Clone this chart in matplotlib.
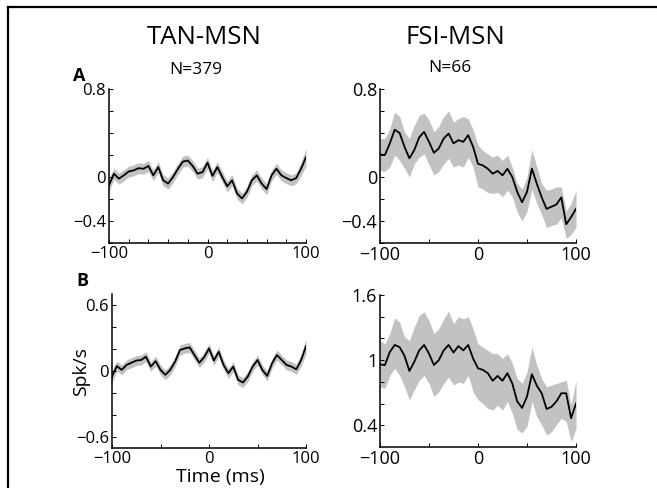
import numpy as np
import matplotlib.pyplot as plt
from matplotlib.lines import Line2D

plt.rcParams['font.family'] = ['Open Sans', 'DejaVu Sans']

# time axis (ms)
t = np.arange(-100, 101, 5)

# TAN-MSN, panel A (mean and sem)
tan_a = [-0.075, 0.03, -0.015, 0.015, 0.05, 0.06, 0.08, 0.075, 0.10, 0.015,
         0.09, -0.03, -0.06, 0.0, 0.075, 0.14, 0.15, 0.10, 0.03, 0.045,
         0.13, 0.01, 0.09, 0.0, -0.085, -0.03, -0.15, -0.195, -0.135, -0.03,
         0.015, -0.06, -0.11, 0.015, 0.075, 0.015, -0.01, -0.03, -0.01, 0.075, 0.18]
tan_a_sem = [0.06, 0.05, 0.05, 0.05, 0.05, 0.05, 0.05, 0.05, 0.05, 0.05,
             0.05, 0.05, 0.05, 0.05, 0.05, 0.05, 0.05, 0.05, 0.05, 0.05,
             0.05, 0.05, 0.05, 0.05, 0.05, 0.05, 0.05, 0.05, 0.05, 0.05,
             0.05, 0.05, 0.05, 0.05, 0.05, 0.05, 0.05, 0.05, 0.05, 0.06, 0.08]

# TAN-MSN, panel B
tan_b = [-0.05, 0.045, 0.01, 0.055, 0.075, 0.095, 0.10, 0.13, 0.04, 0.09,
         0.01, -0.035, 0.01, 0.085, 0.19, 0.205, 0.215, 0.145, 0.075, 0.125,
         0.205, 0.095, 0.175, 0.055, -0.02, 0.04, -0.08, -0.105, -0.05, 0.04,
         0.10, 0.01, -0.045, 0.07, 0.145, 0.10, 0.055, 0.04, 0.015, 0.10, 0.225]
tan_b_sem = [0.06, 0.045, 0.045, 0.045, 0.045, 0.045, 0.045, 0.045, 0.045, 0.045,
             0.045, 0.045, 0.045, 0.045, 0.045, 0.045, 0.045, 0.045, 0.045, 0.045,
             0.045, 0.045, 0.045, 0.045, 0.045, 0.045, 0.045, 0.045, 0.045, 0.045,
             0.045, 0.045, 0.045, 0.045, 0.045, 0.045, 0.045, 0.045, 0.045, 0.055, 0.07]

# FSI-MSN, panel A (mean, upper and lower band)
fsi_a = [0.205, 0.20, 0.305, 0.43, 0.40, 0.275, 0.17, 0.245, 0.36, 0.41,
         0.32, 0.22, 0.26, 0.35, 0.395, 0.305, 0.335, 0.32, 0.38, 0.275,
         0.12, 0.105, 0.075, 0.03, 0.055, 0.015, 0.075, 0.0, -0.135, -0.23,
         -0.135, 0.075, -0.06, -0.185, -0.29, -0.27, -0.25, -0.185, -0.43, -0.365, -0.29]
fsi_a_hi = [0.35, 0.35, 0.44, 0.59, 0.55, 0.41, 0.35, 0.47, 0.56, 0.58,
            0.52, 0.41, 0.46, 0.55, 0.60, 0.50, 0.53, 0.55, 0.53, 0.43,
            0.29, 0.24, 0.21, 0.18, 0.20, 0.15, 0.20, 0.09, -0.06, -0.11,
            0.0, 0.25, 0.09, -0.06, -0.12, -0.11, -0.09, -0.09, -0.31, -0.24, -0.12]
fsi_a_lo = [0.06, 0.05, 0.09, 0.20, 0.15, 0.08, 0.0, 0.12, 0.18, 0.21,
            0.11, 0.02, 0.05, 0.12, 0.17, 0.09, 0.11, 0.09, 0.18, 0.09,
            -0.09, -0.11, -0.14, -0.15, -0.14, -0.18, -0.12, -0.18, -0.32, -0.40,
            -0.31, -0.11, -0.24, -0.34, -0.46, -0.44, -0.43, -0.37, -0.56, -0.52, -0.46]

# FSI-MSN, panel B
fsi_b = [0.96, 0.955, 1.075, 1.14, 1.12, 1.04, 0.90, 0.985, 1.09, 1.14,
         1.06, 0.955, 1.0, 1.09, 1.14, 1.07, 1.13, 1.09, 1.14, 1.015,
         0.925, 0.91, 0.88, 0.81, 0.855, 0.81, 0.88, 0.785, 0.62, 0.56,
         0.665, 0.87, 0.765, 0.695, 0.55, 0.57, 0.62, 0.695, 0.695, 0.465, 0.60]
fsi_b_hi = [1.18, 1.15, 1.245, 1.39, 1.35, 1.215, 1.18, 1.305, 1.41, 1.445,
            1.365, 1.245, 1.29, 1.38, 1.45, 1.335, 1.40, 1.38, 1.40, 1.29,
            1.15, 1.12, 1.09, 1.06, 1.06, 1.015, 1.06, 0.97, 0.83, 0.785,
            0.89, 1.12, 0.955, 0.83, 0.755, 0.77, 0.785, 0.80, 0.815, 0.59, 0.815]
fsi_b_lo = [0.755, 0.74, 0.86, 0.925, 0.86, 0.755, 0.635, 0.725, 0.815, 0.86,
            0.785, 0.665, 0.71, 0.785, 0.845, 0.77, 0.80, 0.785, 0.86, 0.71,
            0.635, 0.60, 0.555, 0.54, 0.585, 0.54, 0.62, 0.51, 0.36, 0.33,
            0.39, 0.62, 0.48, 0.405, 0.31, 0.34, 0.405, 0.465, 0.435, 0.25, 0.37]

band = (0.76, 0.76, 0.76)

fig = plt.figure(figsize=(6.57, 4.88), dpi=100)
W, H = 657.0, 488.0


def box(l, t_, r, b):
    return [l / W, 1 - b / H, (r - l) / W, (b - t_) / H]


def style(ax, ylim, yticks, ylabels, xminor, fs):
    ax.set_xlim(-100, 100)
    ax.set_ylim(*ylim)
    for s in ['top', 'right']:
        ax.spines[s].set_visible(False)
    for s in ['left', 'bottom']:
        ax.spines[s].set_linewidth(1.1)
    xt = np.arange(-100, 101, xminor)
    ax.set_xticks(xt)
    ax.set_xticklabels(['\u2212100' if v == -100 else ('0' if v == 0 else ('100' if v == 100 else ''))
                        for v in xt])
    ax.set_yticks(yticks)
    ax.set_yticklabels(ylabels)
    ax.tick_params(direction='in', length=3, width=0.7, labelsize=fs, pad=2)


axA1 = fig.add_axes(box(109, 89, 306, 243))
axA1.fill_between(t, np.array(tan_a) - tan_a_sem, np.array(tan_a) + tan_a_sem,
                  color=band, lw=0)
axA1.plot(t, tan_a, color='black', lw=1.3, solid_joinstyle='round')
style(axA1, (-0.6, 0.8), np.arange(-0.6, 0.81, 0.2),
      ['', '\u22120.4', '', '0', '', '', '', '0.8'], 20, 12)

axA2 = fig.add_axes(box(380, 89, 576, 243))
axA2.fill_between(t, fsi_a_lo, fsi_a_hi, color=band, lw=0)
axA2.plot(t, fsi_a, color='black', lw=1.3, solid_joinstyle='round')
style(axA2, (-0.6, 0.8), np.arange(-0.6, 0.81, 0.2),
      ['', '\u22120.4', '', '0', '', '', '', '0.8'], 50, 13)

axB1 = fig.add_axes(box(112, 294, 306, 448))
axB1.fill_between(t, np.array(tan_b) - tan_b_sem, np.array(tan_b) + tan_b_sem,
                  color=band, lw=0)
axB1.plot(t, tan_b, color='black', lw=1.3, solid_joinstyle='round')
style(axB1, (-0.7, 0.7), np.arange(-0.6, 0.61, 0.2),
      ['\u22120.6', '', '', '0', '', '', '0.6'], 50, 12)

axB2 = fig.add_axes(box(380, 295, 576, 447))
axB2.fill_between(t, fsi_b_lo, fsi_b_hi, color=band, lw=0)
axB2.plot(t, fsi_b, color='black', lw=1.3, solid_joinstyle='round')
style(axB2, (0.2, 1.6), np.arange(0.4, 1.61, 0.2),
      ['0.4', '', '', '1', '', '', '1.6'], 50, 13)

# axis titles placed as in the reference
fig.text(81 / W, 1 - 371 / H, 'Spk/s', fontsize=14, rotation=90, ha='center', va='center')
fig.text(220 / W, 1 - 477 / H, 'Time (ms)', fontsize=14, ha='center', va='center')

fig.text(204 / W, 1 - 38 / H, 'TAN-MSN', fontsize=18.5, ha='center', va='center')
fig.text(455 / W, 1 - 38 / H, 'FSI-MSN', fontsize=18.5, ha='center', va='center')
fig.text(196 / W, 1 - 70 / H, 'N=379', fontsize=12.5, ha='center', va='center')
fig.text(450 / W, 1 - 68 / H, 'N=66', fontsize=12.5, ha='center', va='center')
fig.text(79 / W, 1 - 76 / H, 'A', fontsize=13, fontweight='bold', ha='center', va='center')
fig.text(82 / W, 1 - 281 / H, 'B', fontsize=13, fontweight='bold', ha='center', va='center')

# frame lines along top and left edges
fig.add_artist(Line2D([8 / W, 8 / W], [0, 1 - 7 / H], color='black', lw=1.6))
fig.add_artist(Line2D([8 / W, 1], [1 - 7 / H, 1 - 7 / H], color='black', lw=1.6))

plt.savefig('out.png', dpi=100)
